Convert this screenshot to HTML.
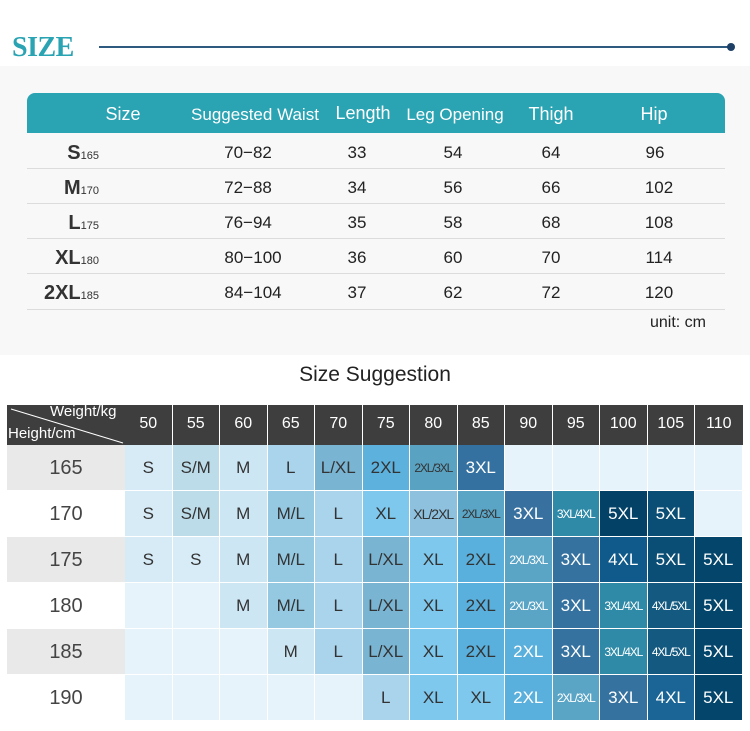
<!DOCTYPE html>
<html><head><meta charset="utf-8"><style>
*{margin:0;padding:0;box-sizing:border-box}
body{width:750px;height:731px;background:#fff;position:relative;overflow:hidden;font-family:"Liberation Sans",sans-serif}
.a{position:absolute}
.t{position:absolute;transform:translateX(-50%);white-space:nowrap;color:#222;font-size:17px}
.hd{position:absolute;transform:translateX(-50%);white-space:nowrap;color:#fff;font-size:18px}
.sep{position:absolute;left:27px;width:698px;height:1px;background:#dcdcdc}
.grid{position:absolute;left:125px;top:445px;display:grid;grid-template-columns:repeat(13,47.5px);grid-template-rows:repeat(6,46px)}
.grid div{border-right:1px solid #fff;border-bottom:1px solid #fff;display:flex;align-items:center;justify-content:center;font-size:17px;color:#333;white-space:nowrap}
.grid div.w{color:#fff}
.grid div.s{font-size:12px;letter-spacing:-1.2px}
.hc{position:absolute;top:405px;height:40px;width:47.5px;text-align:center;line-height:38px;color:#fff;font-size:16px;border-right:1px solid #fff}
.rh{position:absolute;left:7px;width:118px;height:46px;line-height:46px;text-align:center;font-size:20px;color:#444;border-bottom:1px solid #fff}
</style></head><body>
<div class="a" style="left:12px;top:32px;font-family:'Liberation Serif',serif;font-weight:bold;font-size:28px;color:#2aa3b3;letter-spacing:-0.5px">SIZE</div>
<div class="a" style="left:99px;top:46px;width:632px;height:2px;background:#2f5a80"></div>
<div class="a" style="left:727px;top:43px;width:8px;height:8px;border-radius:50%;background:#1e3f66"></div>
<div class="a" style="left:0;top:66px;width:750px;height:289px;background:#f8f8f8"></div>
<div class="a" style="left:27px;top:93px;width:698px;height:40px;background:#2aa3b3;border-radius:8px 8px 0 0"></div>
<div class="hd" style="left:123px;top:104px">Size</div>
<div class="hd" style="left:255px;top:105px;font-size:17px">Suggested Waist</div>
<div class="hd" style="left:363px;top:103px">Length</div>
<div class="hd" style="left:455px;top:105px;font-size:17px">Leg Opening</div>
<div class="hd" style="left:551px;top:104px">Thigh</div>
<div class="hd" style="left:654px;top:104px">Hip</div>

<div class="sep" style="top:168px"></div><div class="sep" style="top:203px"></div><div class="sep" style="top:238px"></div><div class="sep" style="top:273px"></div><div class="sep" style="top:309px"></div>

<div class="a" style="right:651px;top:142px;font-size:20px;font-weight:bold;color:#333">S<span style="font-size:11px;font-weight:normal">165</span></div>
<div class="a" style="right:651px;top:177px;font-size:20px;font-weight:bold;color:#333">M<span style="font-size:11px;font-weight:normal">170</span></div>
<div class="a" style="right:651px;top:212px;font-size:20px;font-weight:bold;color:#333">L<span style="font-size:11px;font-weight:normal">175</span></div>
<div class="a" style="right:651px;top:247px;font-size:20px;font-weight:bold;color:#333">XL<span style="font-size:11px;font-weight:normal">180</span></div>
<div class="a" style="right:651px;top:282px;font-size:20px;font-weight:bold;color:#333">2XL<span style="font-size:11px;font-weight:normal">185</span></div>

<div class="t" style="left:248px;top:143px">70−82</div><div class="t" style="left:357px;top:143px">33</div><div class="t" style="left:453px;top:143px">54</div><div class="t" style="left:551px;top:143px">64</div><div class="t" style="left:655px;top:143px">96</div>
<div class="t" style="left:248px;top:178px">72−88</div><div class="t" style="left:357px;top:178px">34</div><div class="t" style="left:453px;top:178px">56</div><div class="t" style="left:551px;top:178px">66</div><div class="t" style="left:659px;top:178px">102</div>
<div class="t" style="left:248px;top:213px">76−94</div><div class="t" style="left:357px;top:213px">35</div><div class="t" style="left:453px;top:213px">58</div><div class="t" style="left:551px;top:213px">68</div><div class="t" style="left:659px;top:213px">108</div>
<div class="t" style="left:253px;top:248px">80−100</div><div class="t" style="left:357px;top:248px">36</div><div class="t" style="left:453px;top:248px">60</div><div class="t" style="left:551px;top:248px">70</div><div class="t" style="left:659px;top:248px">114</div>
<div class="t" style="left:253px;top:283px">84−104</div><div class="t" style="left:357px;top:283px">37</div><div class="t" style="left:453px;top:283px">62</div><div class="t" style="left:551px;top:283px">72</div><div class="t" style="left:659px;top:283px">120</div>
<div class="t" style="left:678px;top:314px;font-size:16px">unit: cm</div>

<div class="t" style="left:375px;top:363px;font-size:21px">Size Suggestion</div>

<div class="a" style="left:7px;top:405px;width:736px;height:40px;background:#3e3e3e"></div>
<svg class="a" style="left:7px;top:405px" width="118" height="40"><line x1="4" y1="4" x2="116" y2="38" stroke="#fff" stroke-width="1"/></svg>
<div class="a" style="left:50px;top:403px;color:#fff;font-size:15px">Weight/kg</div>
<div class="a" style="left:8px;top:425px;color:#fff;font-size:15px">Height/cm</div>
<div class="hc" style="left:125px">50</div><div class="hc" style="left:172.5px">55</div><div class="hc" style="left:220px">60</div><div class="hc" style="left:267.5px">65</div><div class="hc" style="left:315px">70</div><div class="hc" style="left:362.5px">75</div><div class="hc" style="left:410px">80</div><div class="hc" style="left:457.5px">85</div><div class="hc" style="left:505px">90</div><div class="hc" style="left:552.5px">95</div><div class="hc" style="left:600px">100</div><div class="hc" style="left:647.5px">105</div><div class="hc" style="left:695px;border-right:none">110</div>

<div class="rh" style="top:445px;background:#e9e9e9">165</div>
<div class="rh" style="top:491px;background:#fff">170</div>
<div class="rh" style="top:537px;background:#e9e9e9">175</div>
<div class="rh" style="top:583px;background:#fff">180</div>
<div class="rh" style="top:629px;background:#e9e9e9">185</div>
<div class="rh" style="top:675px;background:#fff">190</div>

<div class="grid">
<div style="background:#d6ebf6">S</div><div style="background:#bcdcea">S/M</div><div style="background:#cde6f4">M</div><div style="background:#a9d4ec">L</div><div style="background:#79b5d3">L/XL</div><div style="background:#5db1dd">2XL</div><div class="s" style="background:#59a2c2">2XL/3XL</div><div class="w" style="background:#3571a0">3XL</div><div style="background:#e6f3fb"></div><div style="background:#e6f3fb"></div><div style="background:#e6f3fb"></div><div style="background:#e6f3fb"></div><div style="background:#e6f3fb"></div>

<div style="background:#d6ebf6">S</div><div style="background:#bcdcea">S/M</div><div style="background:#cde6f4">M</div><div style="background:#95c9e2">M/L</div><div style="background:#a9d4ec">L</div><div style="background:#7ec8ee">XL</div><div style="background:#8dc1de;font-size:14px;letter-spacing:-1px">XL/2XL</div><div class="s" style="background:#5aa4c6">2XL/3XL</div><div class="w" style="background:#3871a0">3XL</div><div class="w s" style="background:#2f8aa8">3XL/4XL</div><div class="w" style="background:#034166">5XL</div><div class="w" style="background:#0a4d75">5XL</div><div style="background:#e6f3fb"></div>

<div style="background:#d6ebf6">S</div><div style="background:#d8ecf7">S</div><div style="background:#cde6f4">M</div><div style="background:#95c9e2">M/L</div><div style="background:#a9d4ec">L</div><div style="background:#79b5d3">L/XL</div><div style="background:#7ec8ee">XL</div><div style="background:#5ab0dc">2XL</div><div class="w s" style="background:#5aa4c6">2XL/3XL</div><div class="w" style="background:#36729f">3XL</div><div class="w" style="background:#0f5a8a">4XL</div><div class="w" style="background:#0a4d75">5XL</div><div class="w" style="background:#03456b">5XL</div>

<div style="background:#e6f3fb"></div><div style="background:#e6f3fb"></div><div style="background:#cde6f4">M</div><div style="background:#95c9e2">M/L</div><div style="background:#a9d4ec">L</div><div style="background:#79b5d3">L/XL</div><div style="background:#7ec8ee">XL</div><div style="background:#5ab0dc">2XL</div><div class="w s" style="background:#5aa4c6">2XL/3XL</div><div class="w" style="background:#36729f">3XL</div><div class="w s" style="background:#2f8aa8">3XL/4XL</div><div class="w s" style="background:#145a80">4XL/5XL</div><div class="w" style="background:#03456b">5XL</div>

<div style="background:#e6f3fb"></div><div style="background:#e6f3fb"></div><div style="background:#e6f3fb"></div><div style="background:#cde6f4">M</div><div style="background:#a9d4ec">L</div><div style="background:#79b5d3">L/XL</div><div style="background:#7ec8ee">XL</div><div style="background:#5ab0dc">2XL</div><div class="w" style="background:#5ab0dc">2XL</div><div class="w" style="background:#36729f">3XL</div><div class="w s" style="background:#2f8aa8">3XL/4XL</div><div class="w s" style="background:#145a80">4XL/5XL</div><div class="w" style="background:#03456b">5XL</div>

<div style="background:#e6f3fb"></div><div style="background:#e6f3fb"></div><div style="background:#e6f3fb"></div><div style="background:#e6f3fb"></div><div style="background:#e6f3fb"></div><div style="background:#a9d4ec">L</div><div style="background:#7ec8ee">XL</div><div style="background:#7ec8ee">XL</div><div class="w" style="background:#5ab0dc">2XL</div><div class="w s" style="background:#5aa4c6">2XL/3XL</div><div class="w" style="background:#36729f">3XL</div><div class="w" style="background:#1a6596">4XL</div><div class="w" style="background:#03456b">5XL</div>
</div>
</body></html>
